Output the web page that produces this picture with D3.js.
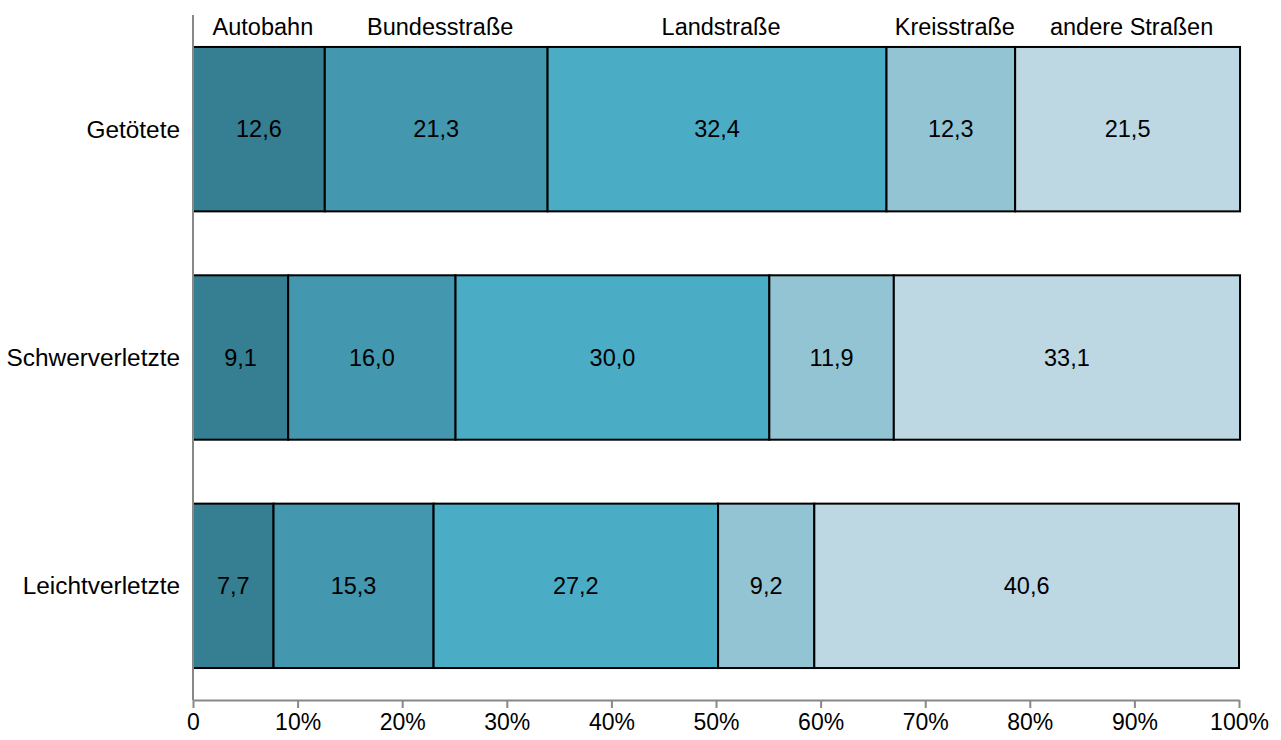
<!DOCTYPE html>
<html><head><meta charset="utf-8">
<script src="https://cdn.jsdelivr.net/npm/d3@7"></script>
<style>body{margin:0;background:#fff}svg{display:block}text{font-family:"Liberation Sans",Arial,sans-serif;fill:#000}</style>
</head><body><svg id="c" width="1281" height="740"></svg>
<script>
const categories = ["Getötete", "Schwerverletzte", "Leichtverletzte"];
const seriesNames = ["Autobahn", "Bundesstraße", "Landstraße", "Kreisstraße", "andere Straßen"];
const autobahn = [12.6, 9.1, 7.7];
const bundesstrasse = [21.3, 16.0, 15.3];
const landstrasse = [32.4, 30.0, 27.2];
const kreisstrasse = [12.3, 11.9, 9.2];
const andere = [21.5, 33.1, 40.6];
const tickValues = [0, 10, 20, 30, 40, 50, 60, 70, 80, 90, 100];
const tickLabels = ["0", "10%", "20%", "30%", "40%", "50%", "60%", "70%", "80%", "90%", "100%"];
const colors = ["#367E91", "#4397AF", "#4BACC6", "#93C4D4", "#BDD8E3"];

(function () {
const series = [autobahn, bundesstrasse, landstrasse, kreisstrasse, andere];
const rows = categories.map((c, i) => {
  const r = {cat: c};
  seriesNames.forEach((s, j) => r[s] = series[j][i]);
  return r;
});
const stacked = d3.stack().keys(seriesNames)(rows);

const svg = d3.select("#c");
const mLeft = 193, mRight = 1239, mTop = 15, mBottom = 700;
const x = d3.scaleLinear().domain([0, 100]).range([mLeft, mRight]);
const y = d3.scaleBand().domain(categories).range([mTop, mBottom]).paddingInner(0.28).paddingOuter(0.14);

const g = svg.append("g");
stacked.forEach((layer, j) => {
  g.selectAll(null).data(layer).enter().append("rect")
    .attr("x", d => x(d[0])).attr("width", d => x(d[1]) - x(d[0]))
    .attr("y", d => y(d.data.cat)).attr("height", y.bandwidth())
    .attr("fill", colors[j]).attr("stroke", "#000").attr("stroke-width", 2);
  g.selectAll(null).data(layer).enter().append("text")
    .attr("x", d => (x(d[0]) + x(d[1])) / 2)
    .attr("y", d => y(d.data.cat) + y.bandwidth() / 2)
    .attr("dy", "0.35em").attr("text-anchor", "middle").attr("font-size", 23.5)
    .text(d => d3.format(".1f")(d[1] - d[0]).replace(".", ","));
});

const first = stacked.map(l => l[0]);
svg.selectAll(null).data(first).enter().append("text")
  .attr("x", d => (x(d[0]) + x(d[1])) / 2 + 4)
  .attr("y", 35).attr("text-anchor", "middle").attr("font-size", 23.5)
  .text((d, j) => seriesNames[j]);

svg.selectAll(null).data(categories).enter().append("text")
  .attr("x", 180).attr("y", d => y(d) + y.bandwidth() / 2)
  .attr("dy", "0.35em").attr("text-anchor", "end").attr("font-size", 24.4).text(d => d);

const xAxis = d3.axisBottom(x).tickValues(tickValues).tickFormat((d, i) => tickLabels[i]).tickSize(8).tickSizeOuter(0);
const ax = svg.append("g").attr("transform", `translate(0,${mBottom})`).call(xAxis);
ax.attr("font-family", null).attr("font-size", null);
ax.select(".domain").attr("stroke", "#888").attr("stroke-width", 2);
ax.selectAll(".tick line").attr("stroke", "#888").attr("stroke-width", 2);
ax.selectAll(".tick text").attr("font-size", 23).attr("fill", "#000").attr("y", 14).attr("dy", "0.71em");

svg.append("line").attr("x1", mLeft).attr("x2", mLeft).attr("y1", mTop).attr("y2", mBottom)
  .attr("stroke", "#888").attr("stroke-width", 2);
})();
</script></body></html>
